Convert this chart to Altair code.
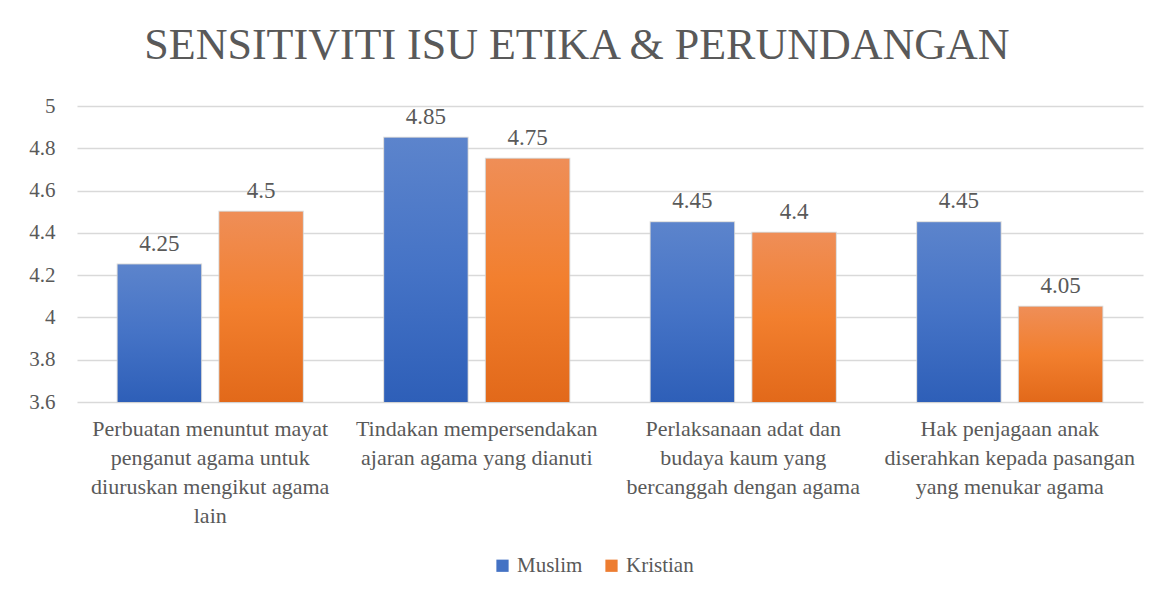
import altair as alt
import pandas as pd

categories = [
    "Perbuatan menuntut mayat|penganut agama untuk|diuruskan mengikut agama|lain",
    "Tindakan mempersendakan|ajaran agama yang dianuti",
    "Perlaksanaan adat dan|budaya kaum yang|bercanggah dengan agama",
    "Hak penjagaan anak|diserahkan kepada pasangan|yang menukar agama",
]
series = ["Muslim", "Kristian"]
muslim = [4.25, 4.85, 4.45, 4.45]
kristian = [4.5, 4.75, 4.4, 4.05]
y_ticks = [3.6, 3.8, 4.0, 4.2, 4.4, 4.6, 4.8, 5.0]

rows = []
for c, m, k in zip(categories, muslim, kristian):
    rows.append({"cat": c, "series": "Muslim", "value": m})
    rows.append({"cat": c, "series": "Kristian", "value": k})
df = pd.DataFrame(rows)

FONT = "Liberation Serif"
TXT = "#595959"

x_enc = alt.X("cat:N", sort=categories,
              scale=alt.Scale(paddingInner=0, paddingOuter=0),
              axis=alt.Axis(title=None, labelAngle=0, domain=False, ticks=False,
                            labelExpr="split(datum.label, '|')",
                            labelLineHeight=29, labelFontSize=22, labelFont=FONT,
                            labelColor=TXT, labelPadding=16, labelBaseline="top",
                            labelLimit=400, grid=False))
xo_enc = alt.XOffset("series:N", sort=series,
                     scale=alt.Scale(domain=series, paddingInner=0.18, paddingOuter=0.4))
y_enc = alt.Y("value:Q",
              scale=alt.Scale(domain=[3.6, 5.0], nice=False, zero=False),
              axis=alt.Axis(title=None, values=y_ticks, format=".1~f", domain=False,
                            ticks=False, labelFontSize=21, labelFont=FONT,
                            labelColor=TXT, labelPadding=22, gridColor="#d9d9d9",
                            gridWidth=1.5))
y2_enc = alt.datum(3.6)

base = alt.Chart(df)

bars = base.mark_bar(stroke="#cfcfcf", strokeWidth=2, strokeOpacity=0.8).encode(
    x=x_enc, xOffset=xo_enc, y=y_enc, y2=y2_enc,
    color=alt.Color("series:N", sort=series,
                    scale=alt.Scale(domain=series, range=["#4472C4", "#ED7D31"]),
                    legend=alt.Legend(title=None, orient="none", direction="horizontal",
                                      legendX=415, legendY=449, symbolType="square",
                                      symbolSize=150, symbolStrokeWidth=0,
                                      labelFontSize=21, labelFont=FONT, labelColor=TXT,
                                      labelOffset=4, columnPadding=18)),
)

blue_grad = alt.Gradient(gradient="linear", x1=0, x2=0, y1=0, y2=1, stops=[
    alt.GradientStop(color="#5C84CC", offset=0),
    alt.GradientStop(color="#4573C6", offset=0.5),
    alt.GradientStop(color="#2E5FB8", offset=1),
])
orange_grad = alt.Gradient(gradient="linear", x1=0, x2=0, y1=0, y2=1, stops=[
    alt.GradientStop(color="#EF8E57", offset=0),
    alt.GradientStop(color="#F27F2E", offset=0.5),
    alt.GradientStop(color="#E2691A", offset=1),
])

m_over = base.transform_filter(alt.datum.series == "Muslim").mark_bar(fill=blue_grad).encode(
    x=x_enc, xOffset=xo_enc, y=y_enc, y2=y2_enc)
k_over = base.transform_filter(alt.datum.series == "Kristian").mark_bar(fill=orange_grad).encode(
    x=x_enc, xOffset=xo_enc, y=y_enc, y2=y2_enc)

labels = base.mark_text(baseline="alphabetic", dy=-14, fontSize=23, font=FONT, color=TXT).encode(
    x=x_enc, xOffset=xo_enc, y=y_enc,
    text=alt.Text("value:Q", format=".3~g"))

chart = alt.layer(bars, m_over, k_over, labels).properties(
    width=1066, height=296,
    title=alt.TitleParams("SENSITIVITI ISU ETIKA & PERUNDANGAN", fontSize=44, font=FONT,
                          color=TXT, fontWeight="normal", anchor="middle", dx=-33,
                          baseline="alphabetic", offset=33, dy=41),
    autosize=alt.AutoSizeParams(type="none"),
    padding={"left": 69, "top": 98, "right": 12, "bottom": 191},
    background="white",
).configure_view(stroke=None)

chart.save("out.html", embed_options={"renderer": "svg", "actions": False})
